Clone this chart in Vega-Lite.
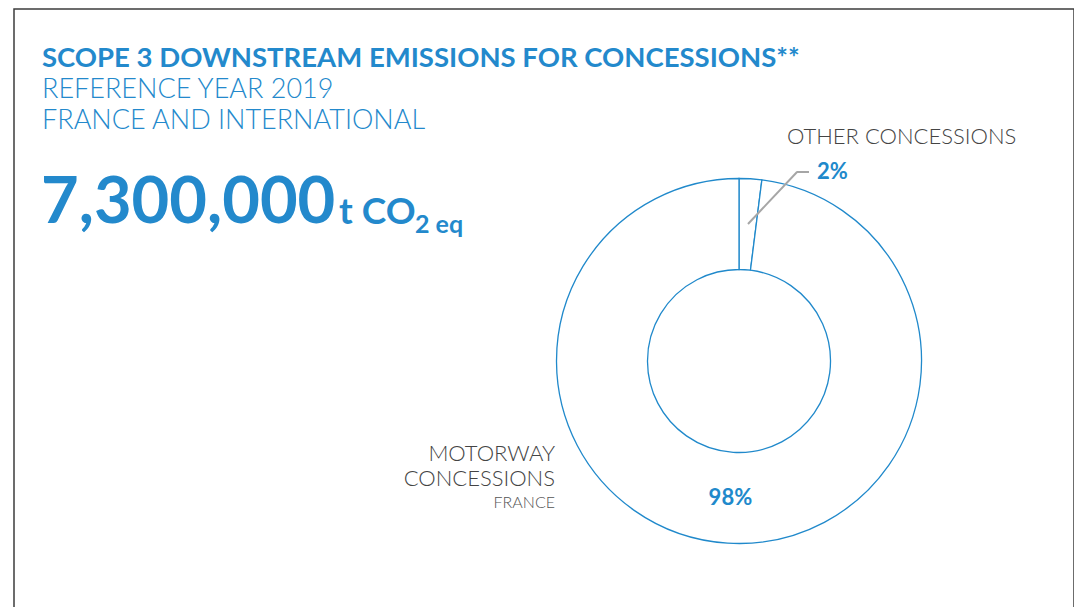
{
  "$schema": "https://vega.github.io/schema/vega-lite/v6.json",
  "width": 1060,
  "height": 640,
  "autosize": {"type": "none"},
  "padding": {"left": 14, "top": 9, "right": 0, "bottom": 0},
  "background": "white",
  "config": {"view": {"stroke": "#3d3d3d", "strokeWidth": 1.5}, "font": "Lato"},
  "title": {
    "text": "SCOPE 3 DOWNSTREAM EMISSIONS FOR CONCESSIONS**",
    "subtitle": ["REFERENCE YEAR 2019", "FRANCE AND INTERNATIONAL"],
    "anchor": "start",
    "frame": "group",
    "orient": "top",
    "offset": -125,
    "dx": 28,
    "font": "Lato",
    "fontSize": 27.5,
    "fontWeight": "bold",
    "color": "#2389cc",
    "subtitleFont": "Lato",
    "subtitleFontSize": 27,
    "subtitleFontWeight": 300,
    "subtitleColor": "#2389cc",
    "subtitleLineHeight": 31,
    "subtitlePadding": 5
  },
  "data": {
    "values": [
      {"category": "Other concessions", "share": 0.02, "rank": 1},
      {"category": "Motorway concessions", "share": 0.98, "rank": 2}
    ]
  },
  "layer": [
    {
      "mark": {"type": "arc", "outerRadius": 182.5, "innerRadius": 91.5, "fill": "white", "stroke": "#2089cb", "strokeWidth": 1.3},
      "encoding": {
        "theta": {"field": "share", "type": "quantitative", "stack": true},
        "order": {"field": "rank", "type": "quantitative"},
        "x": {"value": 725},
        "y": {"value": 352}
      }
    },
    {
      "mark": {"type": "text", "fontSize": 22, "fontWeight": "bold", "color": "#2089cb", "align": "center", "baseline": "middle"},
      "encoding": {
        "theta": {"field": "share", "type": "quantitative", "stack": true},
        "order": {"field": "rank", "type": "quantitative"},
        "radius": {"value": 137},
        "x": {"value": 725},
        "y": {"value": 352},
        "text": {"field": "share", "type": "quantitative", "format": ".0%"},
        "opacity": {"condition": {"test": "datum.rank == 2", "value": 1}, "value": 0}
      }
    },
    {
      "transform": [{"filter": "datum.rank == 1"}],
      "mark": {"type": "text", "fontSize": 22, "fontWeight": "bold", "color": "#2089cb", "align": "left", "baseline": "alphabetic"},
      "encoding": {
        "x": {"value": 803},
        "y": {"value": 170},
        "text": {"field": "share", "type": "quantitative", "format": ".0%"}
      }
    },
    {
      "data": {"values": [{}]},
      "mark": {"type": "rule", "color": "#a6a6a6", "strokeWidth": 2},
      "encoding": {"x": {"value": 734}, "y": {"value": 215}, "x2": {"value": 783}, "y2": {"value": 163}}
    },
    {
      "data": {"values": [{}]},
      "mark": {"type": "rule", "color": "#a6a6a6", "strokeWidth": 2},
      "encoding": {"x": {"value": 782.5}, "y": {"value": 163}, "x2": {"value": 795}, "y2": {"value": 163}}
    },
    {
      "data": {"values": [{}]},
      "mark": {"type": "text", "text": "OTHER CONCESSIONS", "font": "Lato", "fontSize": 22, "fontWeight": 300, "color": "#444444", "align": "left", "baseline": "alphabetic"},
      "encoding": {"x": {"value": 773}, "y": {"value": 135}}
    },
    {
      "data": {"values": [{}]},
      "mark": {"type": "text", "text": ["MOTORWAY", "CONCESSIONS"], "lineHeight": 25, "font": "Lato", "fontSize": 22, "fontWeight": 300, "color": "#444444", "align": "right", "baseline": "alphabetic"},
      "encoding": {"x": {"value": 541}, "y": {"value": 452}}
    },
    {
      "data": {"values": [{}]},
      "mark": {"type": "text", "text": "FRANCE", "font": "Lato", "fontSize": 16, "fontWeight": 300, "color": "#555555", "align": "right", "baseline": "alphabetic"},
      "encoding": {"x": {"value": 541}, "y": {"value": 499}}
    },
    {
      "data": {"values": [{}]},
      "mark": {"type": "text", "text": "7,300,000", "font": "Lato", "fontSize": 65, "fontWeight": "bold", "color": "#2389cc", "align": "left", "baseline": "alphabetic"},
      "encoding": {"x": {"value": 27}, "y": {"value": 214}}
    },
    {
      "data": {"values": [{}]},
      "mark": {"type": "text", "text": "t CO", "font": "Lato", "fontSize": 37, "fontWeight": "bold", "color": "#2389cc", "align": "left", "baseline": "alphabetic"},
      "encoding": {"x": {"value": 325}, "y": {"value": 215}}
    },
    {
      "data": {"values": [{}]},
      "mark": {"type": "text", "text": "2 eq", "font": "Lato", "fontSize": 25, "fontWeight": "bold", "color": "#2389cc", "align": "left", "baseline": "alphabetic"},
      "encoding": {"x": {"value": 401}, "y": {"value": 224}}
    }
  ]
}
